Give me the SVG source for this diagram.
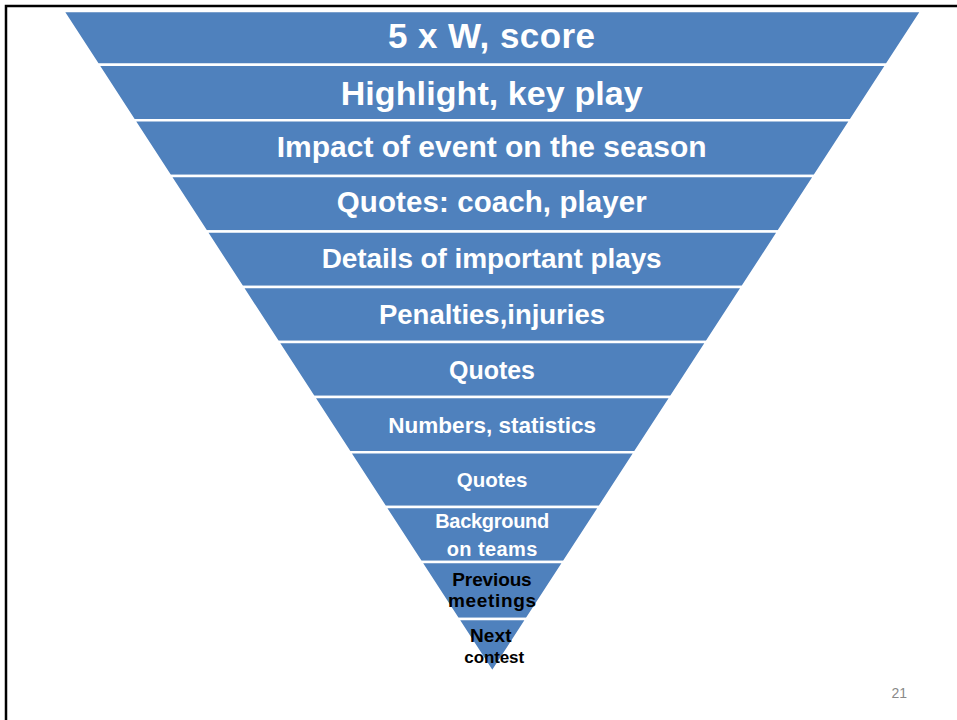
<svg xmlns="http://www.w3.org/2000/svg" width="957" height="720" viewBox="0 0 957 720">
<style>
.band{fill:#4F81BD;stroke:#FFFFFF;stroke-width:2.5;stroke-linejoin:miter}
.t{font-family:"Liberation Sans",Arial,sans-serif;font-weight:bold;text-anchor:middle;fill:#FFFFFF}
.k{fill:#000000}
.pn{font-family:"Liberation Sans",Arial,sans-serif;font-size:14px;fill:#898989}
</style>
<rect width="957" height="720" fill="#FFFFFF"/>
<rect x="6" y="6" width="1000" height="800" fill="none" stroke="#000000" stroke-width="2.5"/>
<g id="connectors"></g>
<g id="band1"><polygon class="band" points="63,11 921.6,11 886.66,64.8 97.94,64.8"/><text class="t" x="491.5" y="48" font-size="35" textLength="207">5 x W, score</text></g>
<g id="band2"><polygon class="band" points="97.94,64.8 886.66,64.8 850.68,120.2 133.92,120.2"/><text class="t" x="491.7" y="105" font-size="34" textLength="302">Highlight, key play</text></g>
<g id="band3"><polygon class="band" points="133.92,120.2 850.68,120.2 814.44,176 170.16,176"/><text class="t" x="491.7" y="156.5" font-size="30" textLength="430">Impact of event on the season</text></g>
<g id="band4"><polygon class="band" points="170.16,176 814.44,176 778.39,231.5 206.21,231.5"/><text class="t" x="491.8" y="211.5" font-size="29.5" textLength="310">Quotes: coach, player</text></g>
<g id="band5"><polygon class="band" points="206.21,231.5 778.39,231.5 742.35,287 242.25,287"/><text class="t" x="491.7" y="268" font-size="28" textLength="340">Details of important plays</text></g>
<g id="band6"><polygon class="band" points="242.25,287 742.35,287 706.63,342 277.97,342"/><text class="t" x="492" y="323.5" font-size="27.5" textLength="226">Penalties,injuries</text></g>
<g id="band7"><polygon class="band" points="277.97,342 706.63,342 670.9,397 313.7,397"/><text class="t" x="492" y="378.5" font-size="25" textLength="86">Quotes</text></g>
<g id="band8"><polygon class="band" points="313.7,397 670.9,397 634.99,452.3 349.61,452.3"/><text class="t" x="492.2" y="432.5" font-size="22.5" textLength="207.7">Numbers, statistics</text></g>
<g id="band9"><polygon class="band" points="349.61,452.3 634.99,452.3 599.46,507 385.14,507"/><text class="t" x="492" y="487" font-size="20.5" textLength="70.6">Quotes</text></g>
<g id="band10"><polygon class="band" points="385.14,507 599.46,507 563.74,562 420.86,562"/><text class="t" x="492.2" y="528" font-size="20" textLength="114">Background</text><text class="t" x="492" y="556" font-size="20" textLength="90.6">on teams</text></g>
<g id="band11"><polygon class="band" points="420.86,562 563.74,562 526.72,619 457.88,619"/><text class="t k" x="492" y="586" font-size="19" textLength="79.4">Previous</text><text class="t k" x="492" y="606.5" font-size="19" textLength="88">meetings</text></g>
<g id="band12"><polygon class="band" points="457.88,619 526.72,619 492.3,672"/><text class="t k" x="490.8" y="641.5" font-size="19" textLength="41.7">Next</text><text class="t k" x="494.2" y="662.5" font-size="17" textLength="59.7">contest</text></g>
<text class="pn" x="891.5" y="697.5">21</text>
</svg>
